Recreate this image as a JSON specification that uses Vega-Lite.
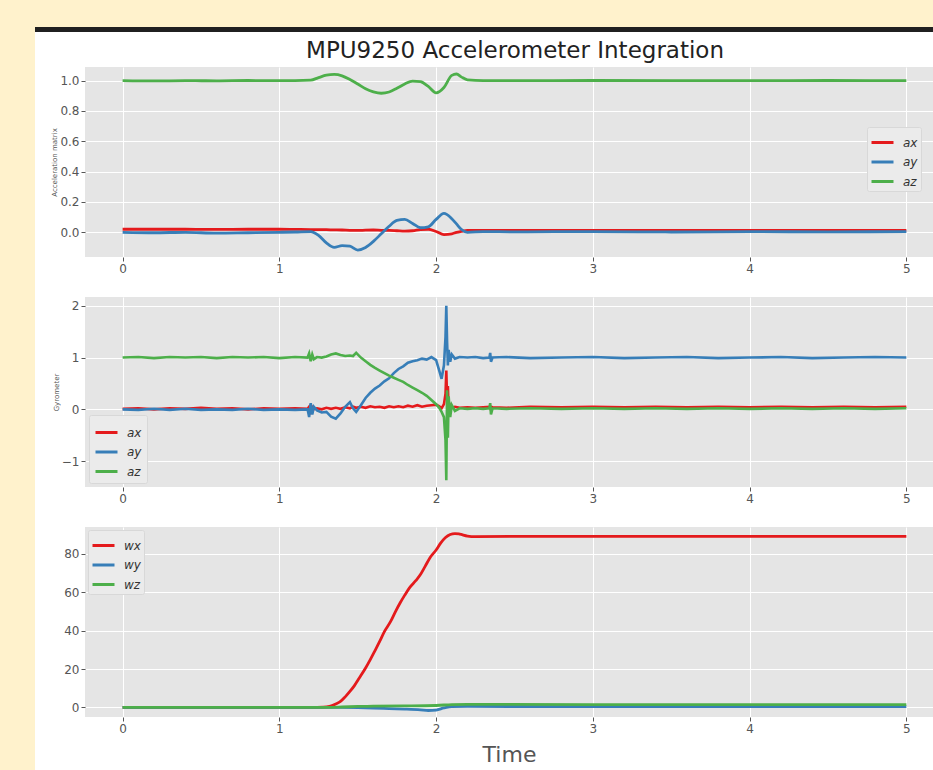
{
  "$schema": "https://vega.github.io/schema/vega-lite/v6.json",
  "padding": 0,
  "background": "white",
  "spacing": 0,
  "config": {
    "font": "DejaVu Sans",
    "view": {"stroke": null},
    "axis": {"domain": false, "gridColor": "white", "gridWidth": 1, "tickColor": "#555555", "tickSize": 4, "labelColor": "#555555", "labelFontSize": 12, "labelFont": "DejaVu Sans", "titleColor": "#555555", "titleFontWeight": "normal", "titleFont": "DejaVu Sans", "labelPadding": 2},
    "legend": {"labelFontSize": 12, "labelFontStyle": "italic", "labelColor": "#333333", "labelFont": "DejaVu Sans", "symbolType": "stroke", "symbolStrokeWidth": 3, "symbolSize": 484, "padding": 5, "fillColor": "#EBEBEB", "strokeColor": "#D8D8D8", "labelOffset": 8, "rowPadding": 0.5, "cornerRadius": 2}
  },
  "datasets": {
    "p1": [
      {"t":0.0,"s":"ax","v":0.02},{"t":0.0,"s":"ay","v":0.0},{"t":0.0,"s":"az","v":1.0},
      {"t":0.2,"s":"ax","v":0.02},{"t":0.2,"s":"ay","v":-0.003},{"t":0.2,"s":"az","v":0.998},
      {"t":0.4,"s":"ax","v":0.02},{"t":0.4,"s":"ay","v":0.0},{"t":0.4,"s":"az","v":1.0},
      {"t":0.6,"s":"ax","v":0.019},{"t":0.6,"s":"ay","v":-0.006},{"t":0.6,"s":"az","v":0.999},
      {"t":0.8,"s":"ax","v":0.02},{"t":0.8,"s":"ay","v":-0.003},{"t":0.8,"s":"az","v":1.001},
      {"t":1.0,"s":"ax","v":0.02},{"t":1.0,"s":"ay","v":0.0},{"t":1.0,"s":"az","v":1.0},
      {"t":1.1,"s":"ax","v":0.019},{"t":1.1,"s":"ay","v":0.002},{"t":1.1,"s":"az","v":1.0},
      {"t":1.2,"s":"ax","v":0.018},{"t":1.2,"s":"ay","v":0.005},{"t":1.2,"s":"az","v":1.003},
      {"t":1.25,"s":"ax","v":0.018},{"t":1.25,"s":"ay","v":-0.02},{"t":1.25,"s":"az","v":1.02},
      {"t":1.3,"s":"ax","v":0.017},{"t":1.3,"s":"ay","v":-0.07},{"t":1.3,"s":"az","v":1.036},
      {"t":1.35,"s":"ax","v":0.016},{"t":1.35,"s":"ay","v":-0.1},{"t":1.35,"s":"az","v":1.041},
      {"t":1.4,"s":"ax","v":0.015},{"t":1.4,"s":"ay","v":-0.088},{"t":1.4,"s":"az","v":1.032},
      {"t":1.45,"s":"ax","v":0.013},{"t":1.45,"s":"ay","v":-0.092},{"t":1.45,"s":"az","v":1.008},
      {"t":1.5,"s":"ax","v":0.012},{"t":1.5,"s":"ay","v":-0.117},{"t":1.5,"s":"az","v":0.978},
      {"t":1.55,"s":"ax","v":0.014},{"t":1.55,"s":"ay","v":-0.1},{"t":1.55,"s":"az","v":0.946},
      {"t":1.6,"s":"ax","v":0.015},{"t":1.6,"s":"ay","v":-0.06},{"t":1.6,"s":"az","v":0.926},
      {"t":1.65,"s":"ax","v":0.013},{"t":1.65,"s":"ay","v":-0.01},{"t":1.65,"s":"az","v":0.917},
      {"t":1.7,"s":"ax","v":0.012},{"t":1.7,"s":"ay","v":0.04},{"t":1.7,"s":"az","v":0.925},
      {"t":1.75,"s":"ax","v":0.01},{"t":1.75,"s":"ay","v":0.078},{"t":1.75,"s":"az","v":0.95},
      {"t":1.8,"s":"ax","v":0.008},{"t":1.8,"s":"ay","v":0.085},{"t":1.8,"s":"az","v":0.978},
      {"t":1.85,"s":"ax","v":0.01},{"t":1.85,"s":"ay","v":0.058},{"t":1.85,"s":"az","v":0.997},
      {"t":1.9,"s":"ax","v":0.018},{"t":1.9,"s":"ay","v":0.03},{"t":1.9,"s":"az","v":0.993},
      {"t":1.95,"s":"ax","v":0.02},{"t":1.95,"s":"ay","v":0.036},{"t":1.95,"s":"az","v":0.962},
      {"t":2.0,"s":"ax","v":0.005},{"t":2.0,"s":"ay","v":0.085},{"t":2.0,"s":"az","v":0.92},
      {"t":2.05,"s":"ax","v":-0.015},{"t":2.05,"s":"ay","v":0.125},{"t":2.05,"s":"az","v":0.955},
      {"t":2.1,"s":"ax","v":-0.01},{"t":2.1,"s":"ay","v":0.09},{"t":2.1,"s":"az","v":1.035},
      {"t":2.13,"s":"ax","v":0.0},{"t":2.13,"s":"ay","v":0.055},{"t":2.13,"s":"az","v":1.044},
      {"t":2.16,"s":"ax","v":0.006},{"t":2.16,"s":"ay","v":0.02},{"t":2.16,"s":"az","v":1.025},
      {"t":2.2,"s":"ax","v":0.012},{"t":2.2,"s":"ay","v":0.0},{"t":2.2,"s":"az","v":1.005},
      {"t":2.3,"s":"ax","v":0.012},{"t":2.3,"s":"ay","v":0.005},{"t":2.3,"s":"az","v":1.0},
      {"t":2.5,"s":"ax","v":0.012},{"t":2.5,"s":"ay","v":0.003},{"t":2.5,"s":"az","v":1.0},
      {"t":3.0,"s":"ax","v":0.012},{"t":3.0,"s":"ay","v":0.005},{"t":3.0,"s":"az","v":1.001},
      {"t":3.5,"s":"ax","v":0.013},{"t":3.5,"s":"ay","v":0.002},{"t":3.5,"s":"az","v":1.0},
      {"t":4.0,"s":"ax","v":0.012},{"t":4.0,"s":"ay","v":0.004},{"t":4.0,"s":"az","v":1.0},
      {"t":4.5,"s":"ax","v":0.013},{"t":4.5,"s":"ay","v":0.003},{"t":4.5,"s":"az","v":1.001},
      {"t":5.0,"s":"ax","v":0.012},{"t":5.0,"s":"ay","v":0.004},{"t":5.0,"s":"az","v":1.0}
    ],
    "p2": [
      {"t":0.0,"s":"ax","v":0.01},{"t":0.0,"s":"ay","v":0.0},{"t":0.0,"s":"az","v":1.0},
      {"t":0.1,"s":"ax","v":0.02},{"t":0.1,"s":"ay","v":-0.01},{"t":0.1,"s":"az","v":1.01},
      {"t":0.2,"s":"ax","v":0.0},{"t":0.2,"s":"ay","v":0.01},{"t":0.2,"s":"az","v":0.99},
      {"t":0.3,"s":"ax","v":0.02},{"t":0.3,"s":"ay","v":-0.01},{"t":0.3,"s":"az","v":1.01},
      {"t":0.4,"s":"ax","v":0.01},{"t":0.4,"s":"ay","v":0.01},{"t":0.4,"s":"az","v":1.0},
      {"t":0.5,"s":"ax","v":0.03},{"t":0.5,"s":"ay","v":-0.01},{"t":0.5,"s":"az","v":1.01},
      {"t":0.6,"s":"ax","v":0.01},{"t":0.6,"s":"ay","v":0.0},{"t":0.6,"s":"az","v":0.99},
      {"t":0.7,"s":"ax","v":0.02},{"t":0.7,"s":"ay","v":-0.01},{"t":0.7,"s":"az","v":1.01},
      {"t":0.8,"s":"ax","v":0.0},{"t":0.8,"s":"ay","v":0.01},{"t":0.8,"s":"az","v":1.0},
      {"t":0.9,"s":"ax","v":0.02},{"t":0.9,"s":"ay","v":-0.01},{"t":0.9,"s":"az","v":1.01},
      {"t":1.0,"s":"ax","v":0.01},{"t":1.0,"s":"ay","v":0.0},{"t":1.0,"s":"az","v":0.99},
      {"t":1.1,"s":"ax","v":0.02},{"t":1.1,"s":"ay","v":-0.01},{"t":1.1,"s":"az","v":1.01},
      {"t":1.18,"s":"ax","v":0.01},{"t":1.18,"s":"ay","v":0.0},{"t":1.18,"s":"az","v":1.0},
      {"t":1.19,"s":"ax","v":0.05},{"t":1.19,"s":"ay","v":-0.15},{"t":1.19,"s":"az","v":1.08},
      {"t":1.2,"s":"ax","v":-0.04},{"t":1.2,"s":"ay","v":0.12},{"t":1.2,"s":"az","v":0.93},
      {"t":1.21,"s":"ax","v":0.04},{"t":1.21,"s":"ay","v":-0.1},{"t":1.21,"s":"az","v":1.06},
      {"t":1.22,"s":"ax","v":0.0},{"t":1.22,"s":"ay","v":0.05},{"t":1.22,"s":"az","v":0.97},
      {"t":1.24,"s":"ax","v":0.02},{"t":1.24,"s":"ay","v":-0.02},{"t":1.24,"s":"az","v":1.01},
      {"t":1.27,"s":"ax","v":0.0},{"t":1.27,"s":"ay","v":-0.06},{"t":1.27,"s":"az","v":1.0},
      {"t":1.3,"s":"ax","v":0.03},{"t":1.3,"s":"ay","v":-0.05},{"t":1.3,"s":"az","v":1.02},
      {"t":1.33,"s":"ax","v":0.01},{"t":1.33,"s":"ay","v":-0.14},{"t":1.33,"s":"az","v":1.06},
      {"t":1.36,"s":"ax","v":0.03},{"t":1.36,"s":"ay","v":-0.18},{"t":1.36,"s":"az","v":1.08},
      {"t":1.39,"s":"ax","v":0.01},{"t":1.39,"s":"ay","v":-0.08},{"t":1.39,"s":"az","v":1.05},
      {"t":1.42,"s":"ax","v":0.04},{"t":1.42,"s":"ay","v":0.05},{"t":1.42,"s":"az","v":1.03},
      {"t":1.45,"s":"ax","v":0.02},{"t":1.45,"s":"ay","v":0.14},{"t":1.45,"s":"az","v":1.04},
      {"t":1.47,"s":"ax","v":0.05},{"t":1.47,"s":"ay","v":0.02},{"t":1.47,"s":"az","v":1.03},
      {"t":1.49,"s":"ax","v":0.03},{"t":1.49,"s":"ay","v":-0.05},{"t":1.49,"s":"az","v":1.09},
      {"t":1.52,"s":"ax","v":0.05},{"t":1.52,"s":"ay","v":0.08},{"t":1.52,"s":"az","v":1.0},
      {"t":1.55,"s":"ax","v":0.03},{"t":1.55,"s":"ay","v":0.22},{"t":1.55,"s":"az","v":0.93},
      {"t":1.58,"s":"ax","v":0.06},{"t":1.58,"s":"ay","v":0.32},{"t":1.58,"s":"az","v":0.86},
      {"t":1.61,"s":"ax","v":0.04},{"t":1.61,"s":"ay","v":0.4},{"t":1.61,"s":"az","v":0.8},
      {"t":1.64,"s":"ax","v":0.05},{"t":1.64,"s":"ay","v":0.46},{"t":1.64,"s":"az","v":0.75},
      {"t":1.67,"s":"ax","v":0.03},{"t":1.67,"s":"ay","v":0.54},{"t":1.67,"s":"az","v":0.7},
      {"t":1.7,"s":"ax","v":0.06},{"t":1.7,"s":"ay","v":0.6},{"t":1.7,"s":"az","v":0.65},
      {"t":1.73,"s":"ax","v":0.04},{"t":1.73,"s":"ay","v":0.7},{"t":1.73,"s":"az","v":0.61},
      {"t":1.76,"s":"ax","v":0.06},{"t":1.76,"s":"ay","v":0.78},{"t":1.76,"s":"az","v":0.57},
      {"t":1.79,"s":"ax","v":0.04},{"t":1.79,"s":"ay","v":0.83},{"t":1.79,"s":"az","v":0.53},
      {"t":1.82,"s":"ax","v":0.07},{"t":1.82,"s":"ay","v":0.9},{"t":1.82,"s":"az","v":0.47},
      {"t":1.85,"s":"ax","v":0.05},{"t":1.85,"s":"ay","v":0.93},{"t":1.85,"s":"az","v":0.42},
      {"t":1.88,"s":"ax","v":0.08},{"t":1.88,"s":"ay","v":0.95},{"t":1.88,"s":"az","v":0.37},
      {"t":1.91,"s":"ax","v":0.05},{"t":1.91,"s":"ay","v":0.98},{"t":1.91,"s":"az","v":0.32},
      {"t":1.94,"s":"ax","v":0.07},{"t":1.94,"s":"ay","v":0.96},{"t":1.94,"s":"az","v":0.26},
      {"t":1.97,"s":"ax","v":0.08},{"t":1.97,"s":"ay","v":1.01},{"t":1.97,"s":"az","v":0.18},
      {"t":2.0,"s":"ax","v":0.09},{"t":2.0,"s":"ay","v":0.95},{"t":2.0,"s":"az","v":0.1},
      {"t":2.02,"s":"ax","v":0.06},{"t":2.02,"s":"ay","v":0.75},{"t":2.02,"s":"az","v":0.03},
      {"t":2.035,"s":"ax","v":0.02},{"t":2.035,"s":"ay","v":0.59},{"t":2.035,"s":"az","v":-0.05},
      {"t":2.05,"s":"ax","v":0.1},{"t":2.05,"s":"ay","v":0.85},{"t":2.05,"s":"az","v":-0.15},
      {"t":2.06,"s":"ax","v":0.3},{"t":2.06,"s":"ay","v":1.4},{"t":2.06,"s":"az","v":-0.6},
      {"t":2.065,"s":"ax","v":0.75},{"t":2.065,"s":"ay","v":2.0},{"t":2.065,"s":"az","v":-1.37},
      {"t":2.07,"s":"ax","v":0.2},{"t":2.07,"s":"ay","v":1.3},{"t":2.07,"s":"az","v":0.37},
      {"t":2.075,"s":"ax","v":0.45},{"t":2.075,"s":"ay","v":0.85},{"t":2.075,"s":"az","v":-0.55},
      {"t":2.08,"s":"ax","v":0.0},{"t":2.08,"s":"ay","v":1.15},{"t":2.08,"s":"az","v":0.25},
      {"t":2.09,"s":"ax","v":0.08},{"t":2.09,"s":"ay","v":0.92},{"t":2.09,"s":"az","v":-0.15},
      {"t":2.1,"s":"ax","v":0.03},{"t":2.1,"s":"ay","v":1.06},{"t":2.1,"s":"az","v":0.08},
      {"t":2.12,"s":"ax","v":0.05},{"t":2.12,"s":"ay","v":0.98},{"t":2.12,"s":"az","v":-0.03},
      {"t":2.15,"s":"ax","v":0.03},{"t":2.15,"s":"ay","v":1.01},{"t":2.15,"s":"az","v":0.02},
      {"t":2.2,"s":"ax","v":0.04},{"t":2.2,"s":"ay","v":1.0},{"t":2.2,"s":"az","v":0.01},
      {"t":2.25,"s":"ax","v":0.03},{"t":2.25,"s":"ay","v":1.01},{"t":2.25,"s":"az","v":0.02},
      {"t":2.3,"s":"ax","v":0.04},{"t":2.3,"s":"ay","v":0.99},{"t":2.3,"s":"az","v":0.01},
      {"t":2.34,"s":"ax","v":0.05},{"t":2.34,"s":"ay","v":1.0},{"t":2.34,"s":"az","v":0.02},
      {"t":2.345,"s":"ax","v":0.02},{"t":2.345,"s":"ay","v":1.09},{"t":2.345,"s":"az","v":0.12},
      {"t":2.35,"s":"ax","v":0.05},{"t":2.35,"s":"ay","v":0.92},{"t":2.35,"s":"az","v":-0.1},
      {"t":2.36,"s":"ax","v":0.04},{"t":2.36,"s":"ay","v":1.0},{"t":2.36,"s":"az","v":0.02},
      {"t":2.45,"s":"ax","v":0.03},{"t":2.45,"s":"ay","v":1.01},{"t":2.45,"s":"az","v":0.01},
      {"t":2.6,"s":"ax","v":0.05},{"t":2.6,"s":"ay","v":0.99},{"t":2.6,"s":"az","v":0.02},
      {"t":2.8,"s":"ax","v":0.04},{"t":2.8,"s":"ay","v":1.0},{"t":2.8,"s":"az","v":0.01},
      {"t":3.0,"s":"ax","v":0.05},{"t":3.0,"s":"ay","v":1.01},{"t":3.0,"s":"az","v":0.02},
      {"t":3.2,"s":"ax","v":0.04},{"t":3.2,"s":"ay","v":0.99},{"t":3.2,"s":"az","v":0.01},
      {"t":3.4,"s":"ax","v":0.05},{"t":3.4,"s":"ay","v":1.0},{"t":3.4,"s":"az","v":0.02},
      {"t":3.6,"s":"ax","v":0.04},{"t":3.6,"s":"ay","v":1.01},{"t":3.6,"s":"az","v":0.01},
      {"t":3.8,"s":"ax","v":0.05},{"t":3.8,"s":"ay","v":0.99},{"t":3.8,"s":"az","v":0.02},
      {"t":4.0,"s":"ax","v":0.04},{"t":4.0,"s":"ay","v":1.0},{"t":4.0,"s":"az","v":0.01},
      {"t":4.2,"s":"ax","v":0.05},{"t":4.2,"s":"ay","v":1.01},{"t":4.2,"s":"az","v":0.02},
      {"t":4.4,"s":"ax","v":0.04},{"t":4.4,"s":"ay","v":0.99},{"t":4.4,"s":"az","v":0.01},
      {"t":4.6,"s":"ax","v":0.05},{"t":4.6,"s":"ay","v":1.0},{"t":4.6,"s":"az","v":0.02},
      {"t":4.8,"s":"ax","v":0.04},{"t":4.8,"s":"ay","v":1.01},{"t":4.8,"s":"az","v":0.01},
      {"t":5.0,"s":"ax","v":0.05},{"t":5.0,"s":"ay","v":1.0},{"t":5.0,"s":"az","v":0.02}
    ],
    "p3": [
      {"t":0.0,"s":"wx","v":0.0},{"t":0.5,"s":"wx","v":0.0},{"t":1.0,"s":"wx","v":0.0},{"t":1.2,"s":"wx","v":0.0},
      {"t":1.28,"s":"wx","v":0.1},{"t":1.32,"s":"wx","v":0.5},{"t":1.36,"s":"wx","v":1.8},{"t":1.39,"s":"wx","v":3.1},
      {"t":1.42,"s":"wx","v":5.5},{"t":1.45,"s":"wx","v":8.3},{"t":1.48,"s":"wx","v":11.5},{"t":1.51,"s":"wx","v":15.3},
      {"t":1.55,"s":"wx","v":20.5},{"t":1.58,"s":"wx","v":24.9},{"t":1.61,"s":"wx","v":29.6},{"t":1.64,"s":"wx","v":34.4},
      {"t":1.67,"s":"wx","v":39.5},{"t":1.71,"s":"wx","v":44.8},{"t":1.74,"s":"wx","v":49.8},{"t":1.77,"s":"wx","v":54.4},
      {"t":1.8,"s":"wx","v":58.5},{"t":1.83,"s":"wx","v":62.3},{"t":1.87,"s":"wx","v":66.0},{"t":1.9,"s":"wx","v":69.2},
      {"t":1.93,"s":"wx","v":73.5},{"t":1.96,"s":"wx","v":77.9},{"t":2.0,"s":"wx","v":82.0},{"t":2.03,"s":"wx","v":85.7},
      {"t":2.06,"s":"wx","v":88.5},{"t":2.09,"s":"wx","v":90.1},{"t":2.12,"s":"wx","v":90.6},{"t":2.15,"s":"wx","v":90.3},
      {"t":2.2,"s":"wx","v":89.3},{"t":2.25,"s":"wx","v":89.0},{"t":2.5,"s":"wx","v":89.1},{"t":3.0,"s":"wx","v":89.1},
      {"t":3.5,"s":"wx","v":89.1},{"t":4.0,"s":"wx","v":89.1},{"t":4.5,"s":"wx","v":89.1},{"t":5.0,"s":"wx","v":89.1},
      {"t":0.0,"s":"wy","v":0.0},{"t":1.0,"s":"wy","v":0.0},{"t":1.4,"s":"wy","v":0.0},{"t":1.5,"s":"wy","v":-0.1},
      {"t":1.6,"s":"wy","v":-0.3},{"t":1.7,"s":"wy","v":-0.6},{"t":1.8,"s":"wy","v":-0.9},{"t":1.9,"s":"wy","v":-1.3},
      {"t":1.95,"s":"wy","v":-1.6},{"t":2.0,"s":"wy","v":-1.4},{"t":2.05,"s":"wy","v":-0.3},{"t":2.1,"s":"wy","v":0.4},
      {"t":2.2,"s":"wy","v":0.5},{"t":3.0,"s":"wy","v":0.4},{"t":4.0,"s":"wy","v":0.4},{"t":5.0,"s":"wy","v":0.4},
      {"t":0.0,"s":"wz","v":0.0},{"t":1.3,"s":"wz","v":0.0},{"t":1.4,"s":"wz","v":0.2},{"t":1.5,"s":"wz","v":0.5},
      {"t":1.6,"s":"wz","v":0.7},{"t":1.8,"s":"wz","v":0.8},{"t":2.0,"s":"wz","v":1.0},{"t":2.1,"s":"wz","v":1.5},
      {"t":2.2,"s":"wz","v":1.6},{"t":3.0,"s":"wz","v":1.5},{"t":4.0,"s":"wz","v":1.5},{"t":5.0,"s":"wz","v":1.5}
    ]
  },
  "vconcat": [
    {"width": 933, "height": 27, "view": {"fill": "#FFF2CC", "stroke": null}, "data": {"values": []}, "mark": "rect", "encoding": {}},
    {"spacing": 0, "hconcat": [
      {"width": 35, "height": 40, "view": {"fill": "#FFF2CC", "stroke": null}, "data": {"values": []}, "mark": "rect", "encoding": {}},
      {"width": 898, "height": 5, "view": {"fill": "#202020", "stroke": null}, "data": {"values": []}, "mark": "rect", "encoding": {},
       "title": {"text": "MPU9250 Accelerometer Integration", "orient": "bottom", "fontSize": 23, "font": "DejaVu Sans", "fontWeight": "normal", "color": "#222222", "frame": "group", "anchor": "middle", "offset": 8, "dx": 31}}
    ]},
    {"spacing": 15, "hconcat": [
      {"width": 35, "height": 703, "view": {"fill": "#FFF2CC", "stroke": null}, "data": {"values": []}, "mark": "rect", "encoding": {}},
      {"spacing": 23,
       "resolve": {"scale": {"x": "independent", "y": "independent", "color": "independent"}, "legend": {"color": "independent"}},
       "vconcat": [
        {"width": 848, "height": 190,
         "view": {"fill": "#E5E5E5", "stroke": null},
         "data": {"name": "p1"},
         "mark": {"type": "line", "strokeWidth": 2.8, "interpolate": "monotone", "clip": true},
         "encoding": {
           "x": {"field": "t", "type": "quantitative", "scale": {"domain": [-0.24, 5.17], "nice": false, "zero": false}, "axis": {"values": [0,1,2,3,4,5], "format": "d", "title": null}},
           "y": {"field": "v", "type": "quantitative", "scale": {"domain": [-0.163, 1.09], "nice": false, "zero": false}, "axis": {"values": [0,0.2,0.4,0.6,0.8,1.0], "format": ".1f", "title": "Acceleration matrix", "titleFontSize": 7, "titlePadding": 2}},
           "color": {"field": "s", "type": "nominal", "scale": {"domain": ["ax","ay","az"], "range": ["#E41A1C","#377EB8","#4DAF4A"]}, "legend": {"title": null, "orient": "none", "legendX": 782, "legendY": 60, "padding": 3}}
         }
        },
        {"width": 848, "height": 190,
         "view": {"fill": "#E5E5E5", "stroke": null},
         "data": {"name": "p2"},
         "mark": {"type": "line", "strokeWidth": 2.6, "clip": true},
         "encoding": {
           "x": {"field": "t", "type": "quantitative", "scale": {"domain": [-0.24, 5.17], "nice": false, "zero": false}, "axis": {"values": [0,1,2,3,4,5], "format": "d", "title": null}},
           "y": {"field": "v", "type": "quantitative", "scale": {"domain": [-1.5, 2.17], "nice": false, "zero": false}, "axis": {"values": [-1,0,1,2], "format": "d", "title": "Gyrometer", "titleFontSize": 7, "titlePadding": 2}},
           "color": {"field": "s", "type": "nominal", "scale": {"domain": ["ax","ay","az"], "range": ["#E41A1C","#377EB8","#4DAF4A"]}, "legend": {"title": null, "orient": "bottom-left", "offset": 4}}
         }
        },
        {"width": 848, "height": 190,
         "view": {"fill": "#E5E5E5", "stroke": null},
         "data": {"name": "p3"},
         "mark": {"type": "line", "strokeWidth": 2.8, "interpolate": "monotone", "clip": true},
         "encoding": {
           "x": {"field": "t", "type": "quantitative", "scale": {"domain": [-0.24, 5.17], "nice": false, "zero": false}, "axis": {"values": [0,1,2,3,4,5], "format": "d", "title": "Time", "titleFontSize": 22, "titlePadding": 10}},
           "y": {"field": "v", "type": "quantitative", "scale": {"domain": [-5, 94], "nice": false, "zero": false}, "axis": {"values": [0,20,40,60,80], "format": "d", "title": null}},
           "color": {"field": "s", "type": "nominal", "scale": {"domain": ["wx","wy","wz"], "range": ["#E41A1C","#377EB8","#4DAF4A"]}, "legend": {"title": null, "orient": "top-left", "offset": 3, "padding": 3}}
         }
        }
      ]}
    ]}
  ]
}
